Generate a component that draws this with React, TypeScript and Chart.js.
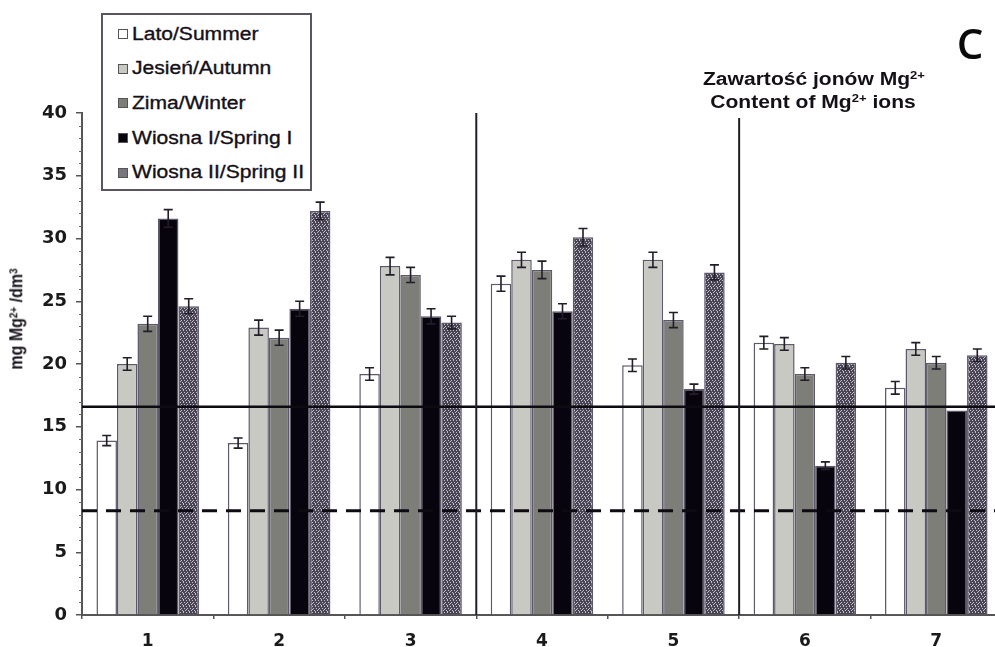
import React, { useEffect, useRef } from "react";
import { Chart, registerables } from "chart.js";

Chart.register(...registerables);

// ---- data ----
const categories = ["1", "2", "3", "4", "5", "6", "7"];
const seriesNames = [
  "Lato/Summer",
  "Jesień/Autumn",
  "Zima/Winter",
  "Wiosna I/Spring I",
  "Wiosna II/Spring II",
];
const summer = [13.9, 13.7, 19.2, 26.4, 19.9, 21.7, 18.1];
const autumn = [20.0, 22.9, 27.8, 28.3, 28.3, 21.6, 21.2];
const winter = [23.2, 22.1, 27.1, 27.5, 23.5, 19.2, 20.1];
const spring1 = [31.6, 24.4, 23.8, 24.2, 18.0, 11.9, 16.3];
const spring2 = [24.6, 32.2, 23.3, 30.1, 27.3, 20.1, 20.7];

const summerErr = [0.4, 0.4, 0.5, 0.6, 0.5, 0.5, 0.5];
const autumnErr = [0.5, 0.6, 0.7, 0.6, 0.6, 0.5, 0.5];
const winterErr = [0.6, 0.6, 0.6, 0.7, 0.6, 0.5, 0.5];
const spring1Err = [0.7, 0.6, 0.6, 0.6, 0.4, 0.3, 0.0];
const spring2Err = [0.6, 0.7, 0.5, 0.7, 0.6, 0.5, 0.5];

const yMin = 0;
const yMax = 40;
const yMajorStep = 5;
const yMinorStep = 1;

const solidLimit = 16.6;
const dashedLimit = 8.3;
const dividerAfterIndex = [2, 4];
const dividerTopValue = [40, 39.6];

const seriesValues = [summer, autumn, winter, spring1, spring2];
const seriesErrors = [summerErr, autumnErr, winterErr, spring1Err, spring2Err];

// ---- styles ----
const FONT = '"Liberation Sans", Arial, sans-serif';
const TICK_FONT = '"DejaVu Sans", "Liberation Sans", sans-serif';
const STRETCH = 1.17;
const barColors = ["#ffffff", "#c9c9c3", "#7d7e78", "#08040d", "PATTERN"];
const legendColors = ["#ffffff", "#c9c9c3", "#7d7e78", "#08040d", "#7a7680"];
const borderCol = "#5d586a";

function makePattern(): CanvasPattern | string {
  const c = document.createElement("canvas");
  c.width = 6;
  c.height = 6;
  const g = c.getContext("2d");
  if (!g) return "#6a6570";
  g.fillStyle = "#4a4555";
  g.fillRect(0, 0, 6, 6);
  g.fillStyle = "#c4c0cb";
  const dots = [
    [0, 0], [3, 0], [1, 2], [4, 2], [2, 4], [5, 4], [0, 3], [3, 5],
  ];
  dots.forEach(([x, y]) => g.fillRect(x, y, 1, 1));
  const p = g.createPattern(c, "repeat");
  return p || "#6a6570";
}

const overlayPlugin = {
  id: "overlay",
  afterDatasetsDraw(chart: any) {
    const ctx = chart.ctx;
    const xs = chart.scales.x;
    const ys = chart.scales.y;
    const area = chart.chartArea;
    ctx.save();
    // error bars
    ctx.strokeStyle = "#221d28";
    ctx.lineWidth = 1.6;
    chart.data.datasets.forEach((ds: any, di: number) => {
      const meta = chart.getDatasetMeta(di);
      const errs = seriesErrors[di];
      meta.data.forEach((bar: any, i: number) => {
        const v = ds.data[i];
        const e = errs[i];
        if (!e) return;
        const yt = ys.getPixelForValue(v + e);
        const yb = ys.getPixelForValue(v - e);
        const x = bar.x;
        ctx.beginPath();
        ctx.moveTo(x, yt);
        ctx.lineTo(x, yb);
        ctx.moveTo(x - 4.5, yt);
        ctx.lineTo(x + 4.5, yt);
        ctx.moveTo(x - 4.5, yb);
        ctx.lineTo(x + 4.5, yb);
        ctx.stroke();
      });
    });
    // horizontal limit lines
    ctx.strokeStyle = "#0d0a12";
    ctx.lineWidth = 2.5;
    let y = ys.getPixelForValue(solidLimit);
    ctx.beginPath();
    ctx.moveTo(area.left, y);
    ctx.lineTo(area.right, y);
    ctx.stroke();
    ctx.lineWidth = 3;
    ctx.setLineDash([15, 9]);
    y = ys.getPixelForValue(dashedLimit);
    ctx.beginPath();
    ctx.moveTo(area.left, y);
    ctx.lineTo(area.right, y);
    ctx.stroke();
    ctx.setLineDash([]);
    // vertical dividers
    ctx.lineWidth = 2;
    ctx.strokeStyle = "#221d2a";
    dividerAfterIndex.forEach((idx, k) => {
      const x = (xs.getPixelForValue(idx) + xs.getPixelForValue(idx + 1)) / 2;
      ctx.beginPath();
      ctx.moveTo(x, ys.getPixelForValue(dividerTopValue[k]));
      ctx.lineTo(x, ys.getPixelForValue(yMin));
      ctx.stroke();
    });
    // minor y ticks
    ctx.strokeStyle = "#666";
    ctx.lineWidth = 1;
    for (let v = yMin; v <= yMax; v += yMinorStep) {
      if (v % yMajorStep === 0) continue;
      const py = Math.round(ys.getPixelForValue(v)) + 0.5;
      ctx.beginPath();
      ctx.moveTo(area.left - 3, py);
      ctx.lineTo(area.left, py);
      ctx.stroke();
    }
    ctx.restore();
  },
};

function Sup({ children }: { children: React.ReactNode }) {
  return (
    <span style={{ fontSize: "0.62em", position: "relative", top: "-0.55em" }}>
      {children}
    </span>
  );
}

export default function App() {
  const ref = useRef<HTMLCanvasElement | null>(null);
  useEffect(() => {
    if (!ref.current) return;
    const pattern = makePattern();
    const chart = new Chart(ref.current, {
      type: "bar",
      data: {
        labels: categories,
        datasets: seriesNames.map((name, i) => ({
          label: name,
          data: seriesValues[i],
          backgroundColor: barColors[i] === "PATTERN" ? (pattern as any) : barColors[i],
          borderColor: borderCol,
          borderWidth: 1.5,
          categoryPercentage: 0.78,
          barPercentage: 1,
        })),
      },
      options: {
        responsive: false,
        animation: false,
        devicePixelRatio: 1,
        layout: { padding: { top: 113, right: 8, left: 0, bottom: 0 } },
        plugins: { legend: { display: false }, tooltip: { enabled: false } },
        scales: {
          x: {
            offset: true,
            grid: {
              display: true,
              offset: true,
              drawOnChartArea: false,
              tickLength: 4,
              tickColor: "#555",
              lineWidth: 1.5,
            },
            border: { color: "#555", width: 2 },
            ticks: {
              font: { family: TICK_FONT, size: 17, weight: "bold" },
              color: "#1a1a1a",
              padding: 12,
            },
            afterFit: (s: any) => {
              s.height = 32;
            },
          },
          y: {
            min: yMin,
            max: yMax,
            ticks: {
              stepSize: yMinorStep,
              autoSkip: false,
              callback: (v: any) => (Number(v) % yMajorStep === 0 ? String(v) : ""),
              font: { family: TICK_FONT, size: 18, weight: "bold" },
              color: "#1a1a1a",
              padding: 9,
            },
            grid: {
              drawOnChartArea: false,
              tickLength: 6,
              lineWidth: 1.5,
              tickColor: (c: any) =>
                c.tick && Number(c.tick.value) % yMajorStep === 0 ? "#555" : "rgba(0,0,0,0)",
            },
            border: { color: "#555", width: 2 },
            afterFit: (s: any) => {
              s.width = 82;
            },
          },
        },
      },
      plugins: [overlayPlugin],
    } as any);
    return () => chart.destroy();
  }, []);

  const heavy = { WebkitTextStroke: "0.35px #151018" } as React.CSSProperties;

  return (
    <div
      style={{
        position: "absolute",
        left: 0,
        top: 0,
        width: 995,
        height: 647,
        overflow: "hidden",
        background: "#fff",
        fontFamily: FONT,
      }}
    >
      <canvas ref={ref} width={1010} height={647} style={{ position: "absolute", left: 0, top: 0 }} />
      {/* legend */}
      <div
        style={{
          position: "absolute",
          left: 101,
          top: 13,
          width: 207,
          height: 174,
          border: "2px solid #5a5560",
          background: "#fff",
        }}
      >
        {seriesNames.map((n, i) => (
          <div
            key={n}
            style={{
              position: "absolute",
              left: 15,
              top: 19 + i * 34.7 - 11,
              height: 22,
              display: "flex",
              alignItems: "center",
              whiteSpace: "nowrap",
              fontSize: 18,
              color: "#151018",
            }}
          >
            <span
              style={{
                display: "inline-block",
                width: 8,
                height: 8,
                background: legendColors[i],
                border: "1px solid #555",
                marginRight: 4,
              }}
            />
            <span
              style={{
                display: "inline-block",
                transform: `scaleX(${STRETCH})`,
                transformOrigin: "left center",
                ...heavy,
              }}
            >
              {n}
            </span>
          </div>
        ))}
      </div>
      {/* panel letter */}
      <div
        style={{
          position: "absolute",
          left: 970,
          top: 43,
          transform: "translate(-50%,-50%)",
          fontFamily: '"Open Sans", sans-serif',
          fontWeight: 600,
          fontSize: 42,
          lineHeight: "42px",
          color: "#0a0a0a",
        }}
      >
        C
      </div>
      {/* annotation */}
      <div
        style={{
          position: "absolute",
          left: 814,
          top: 80,
          transform: `translate(-50%,-50%) scaleX(${STRETCH})`,
          fontWeight: "bold",
          fontSize: 18,
          whiteSpace: "nowrap",
          color: "#151018",
          lineHeight: "22px",
        }}
      >
        Zawartość jonów Mg<Sup>2+</Sup>
      </div>
      <div
        style={{
          position: "absolute",
          left: 813,
          top: 103,
          transform: `translate(-50%,-50%) scaleX(${STRETCH})`,
          fontWeight: "bold",
          fontSize: 18,
          whiteSpace: "nowrap",
          color: "#151018",
          lineHeight: "22px",
        }}
      >
        Content of Mg<Sup>2+</Sup> ions
      </div>
      {/* y-axis title */}
      <div
        style={{
          position: "absolute",
          left: 18,
          top: 319,
          transform: `translate(-50%,-50%) rotate(-90deg) scaleY(${STRETCH})`,
          fontWeight: "bold",
          fontSize: 16,
          whiteSpace: "nowrap",
          color: "#151018",
          lineHeight: "18px",
        }}
      >
        mg Mg<Sup>2+</Sup> /dm<Sup>3</Sup>
      </div>
    </div>
  );
}
